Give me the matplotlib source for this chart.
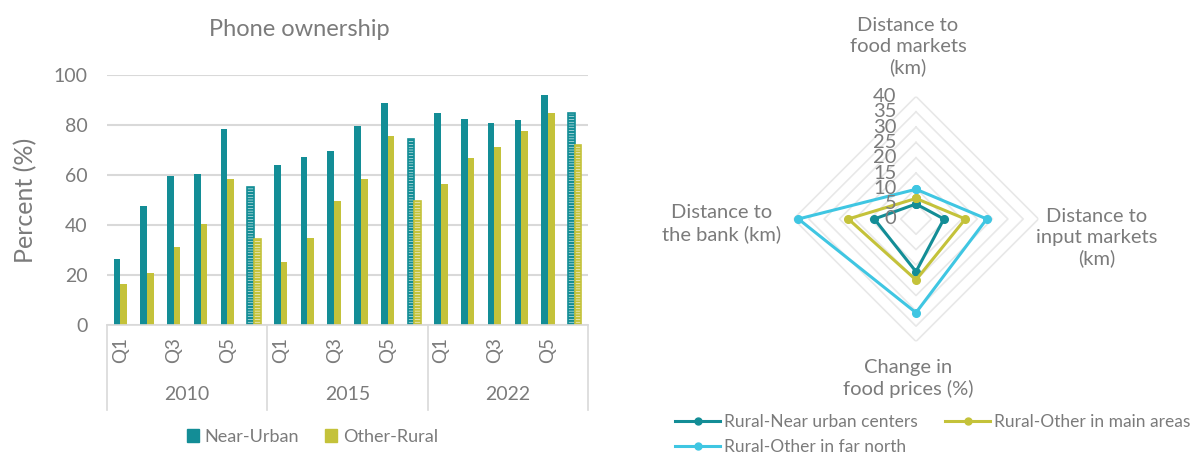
import numpy as np
import matplotlib
matplotlib.use("Agg")
import matplotlib.pyplot as plt
from matplotlib.lines import Line2D
from matplotlib.patches import Patch

plt.rcParams['font.family'] = ['Lato', 'DejaVu Sans']
plt.rcParams['hatch.linewidth'] = 1.6

# phone ownership by quintile (Q1-Q5 plus average) for each survey year
years = ["2010", "2015", "2022"]
groups = ["Q1", "Q2", "Q3", "Q4", "Q5", "Avg"]
near_urban = [26.5, 47.4, 59.6, 60.5, 78.4, 55.1,
              63.9, 67.3, 69.7, 79.4, 88.7, 74.5,
              84.8, 82.3, 80.9, 81.8, 92.0, 84.8]
other_rural = [16.4, 20.8, 31.0, 40.2, 58.2, 34.2,
               25.2, 34.9, 49.5, 58.2, 75.5, 49.7,
               56.2, 66.8, 71.3, 77.5, 84.8, 72.1]

# access indicators for the radar
spokes = ["Distance to\nfood markets\n(km)", "Distance to\ninput markets\n(km)",
          "Change in\nfood prices (%)", "Distance to\nthe bank (km)"]
near_urban_centers = [4.9, 9.1, 17.2, 13.6]
other_main_areas = [6.7, 16.1, 19.9, 22.1]
other_far_north = [9.7, 23.1, 30.6, 38.4]
radar_names = ["Rural-Near urban centers", "Rural-Other in main areas",
               "Rural-Other in far north"]

TEAL = "#138d96"
OLIVE = "#c4c23a"
CYAN = "#3fc6e2"
GREY = "#7b7b7b"
GRID = "#d9d9d9"

fig = plt.figure(figsize=(12.01, 4.66), dpi=100)

# ---- bar chart ----
ax = fig.add_axes([0.0891, 0.3026, 0.4005, 0.5365])
n = len(near_urban)
x = np.arange(n)
w = 0.25
for i in range(n):
    avg = groups[i % 6] == "Avg"
    if avg:
        ax.bar(x[i] - w / 2, near_urban[i], w, facecolor="white", edgecolor=TEAL,
               hatch="------", linewidth=1.2)
        ax.bar(x[i] + w / 2, other_rural[i], w, facecolor="white", edgecolor=OLIVE,
               hatch="------", linewidth=1.2)
    else:
        ax.bar(x[i] - w / 2, near_urban[i], w, color=TEAL)
        ax.bar(x[i] + w / 2, other_rural[i], w, color=OLIVE)

ax.set_xlim(-0.5, n - 0.5)
ax.set_ylim(0, 100)
ax.set_yticks(range(0, 101, 20))
ax.tick_params(axis='y', length=0, labelsize=14, labelcolor=GREY, pad=14)
ax.set_xticks([])
ax.yaxis.grid(True, color=GRID, linewidth=1.5)
ax.set_axisbelow(True)
for s in ["top", "right", "left"]:
    ax.spines[s].set_visible(False)
ax.spines["bottom"].set_color(GRID)
ax.spines["bottom"].set_linewidth(1.2)
ax.set_ylabel("Percent (%)", fontsize=18, color=GREY)
ax.yaxis.set_label_coords(-0.145, 0.5)
fig.text(0.249, 0.936, "Phone ownership", ha="center", va="center",
         fontsize=17, color=GREY)

trans = ax.get_xaxis_transform()
for i in range(n):
    if i % 2 == 0 and groups[i % 6] != "Avg":
        ax.text(x[i], -0.1, groups[i % 6], transform=trans, rotation=90,
                ha="center", va="center", fontsize=13.5, color=GREY)
for k, yr in enumerate(years):
    ax.text(k * 6 + 2.5, -0.28, yr, transform=trans, ha="center", va="center",
            fontsize=14, color=GREY)
for b in [-0.5, 5.5, 11.5, 17.5]:
    ax.plot([b, b], [0, -0.34], transform=trans, color=GRID, lw=1.2, clip_on=False)

fig.legend(handles=[Patch(color=TEAL, label="Near-Urban"),
                    Patch(color=OLIVE, label="Other-Rural")],
           loc="center", bbox_to_anchor=(0.26, 0.062), ncol=2, frameon=False,
           fontsize=13, labelcolor=GREY, handlelength=0.7, handleheight=0.7,
           handletextpad=0.3, columnspacing=1.4)

# ---- radar chart ----
rax = fig.add_axes([0.6607, 0.2672, 0.204, 0.5258], projection="polar")
rax.set_theta_offset(np.pi / 2)
rax.set_theta_direction(-1)
theta = np.linspace(0, 2 * np.pi, len(spokes), endpoint=False)
closed = np.append(theta, theta[0])
rax.set_ylim(0, 40)
rax.grid(False)
rax.spines["polar"].set_visible(False)
rax.set_xticks([])
rax.set_yticks([])
rax.patch.set_alpha(0)

for r in range(5, 41, 5):
    rax.plot(closed, [r] * len(closed), color="#e8e8e8", lw=1.2, zorder=1)
for r in range(0, 41, 5):
    rax.annotate(str(r), (0, r), xytext=(-14, 0), textcoords="offset points",
                 ha="right", va="center", fontsize=14.5, color=GREY, zorder=5)

for vals, col, name in zip([near_urban_centers, other_main_areas, other_far_north],
                           [TEAL, OLIVE, CYAN], radar_names):
    rax.plot(closed, vals + vals[:1], color=col, lw=2.2, marker="o", ms=5.5,
             label=name, zorder=3)

label_pos = [(0.756, 0.9), (0.913, 0.49), (0.756, 0.188), (0.601, 0.52)]
for txt, (fx, fy) in zip(spokes, label_pos):
    fig.text(fx, fy, txt, ha="center", va="center", fontsize=14.5, color=GREY,
             linespacing=1.25)

# legend fills column-wise, so order handles to read row-wise
order = [0, 2, 1]
handles = [Line2D([], [], color=c, lw=2.2, marker="o", ms=5) for c in [TEAL, OLIVE, CYAN]]
fig.legend([handles[k] for k in order], [radar_names[k] for k in order],
           loc="upper left", bbox_to_anchor=(0.562, 0.112),
           ncol=2, frameon=False, fontsize=12.5, labelcolor=GREY, handlelength=2.6,
           handletextpad=0.2, columnspacing=1.6, labelspacing=0.55,
           borderaxespad=0, borderpad=0)

fig.savefig("out.png", dpi=100)
